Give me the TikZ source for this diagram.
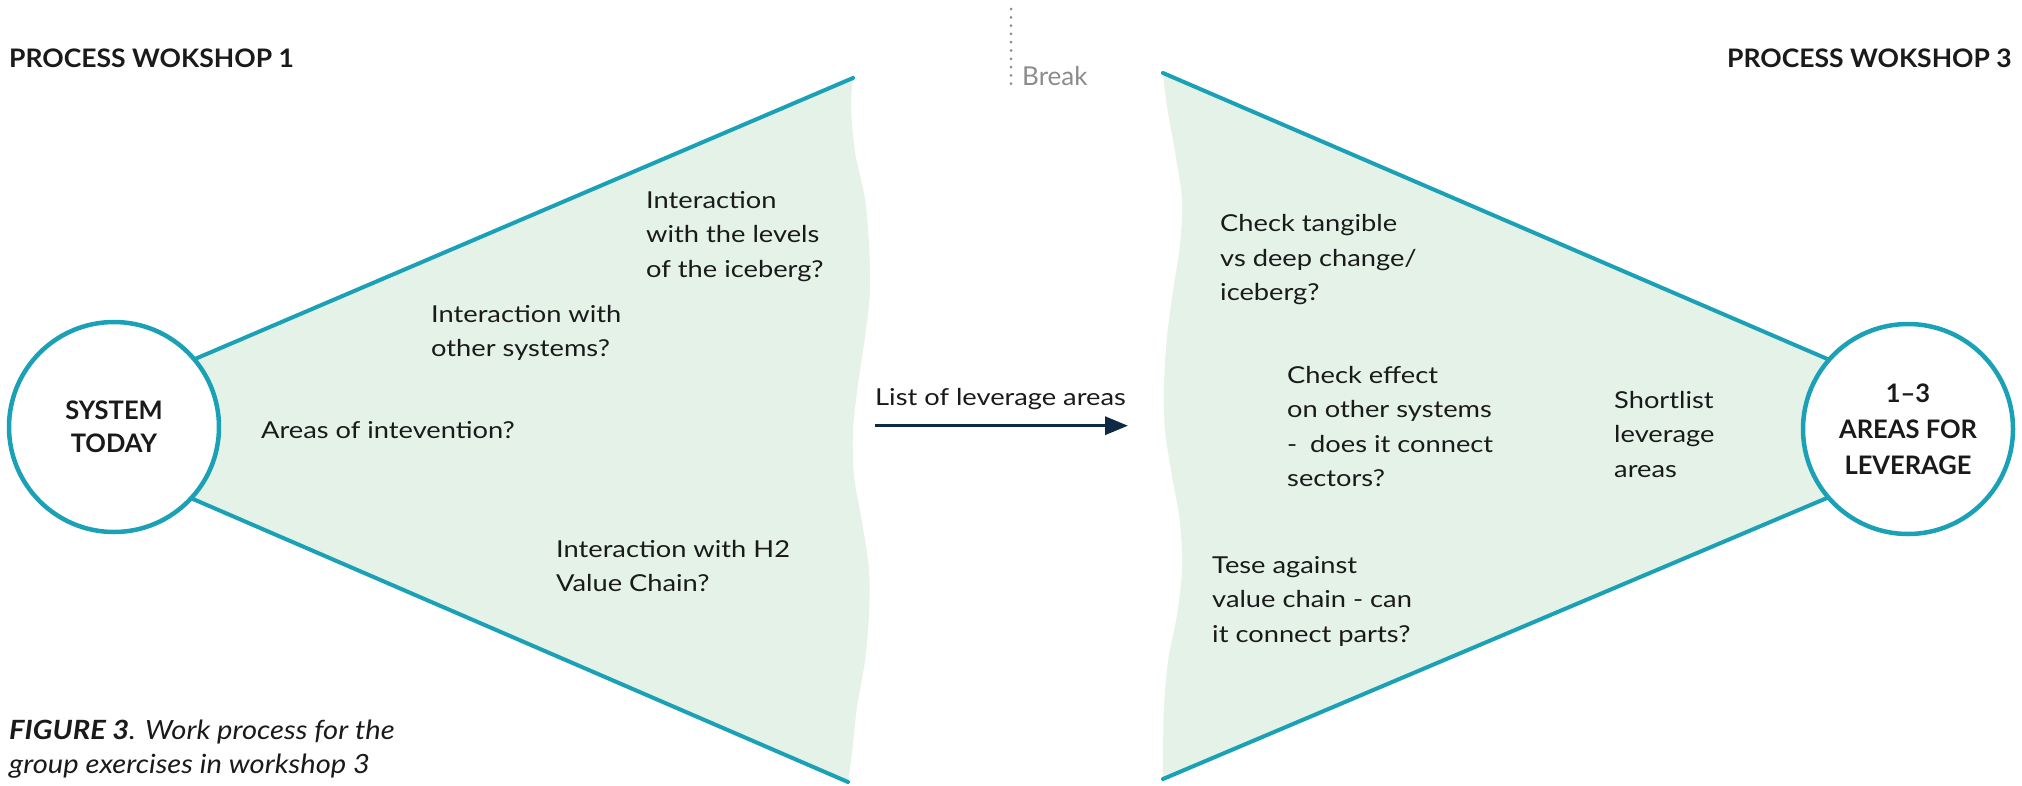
\documentclass[tikz,border=0pt]{standalone}
\usepackage{fontspec}
\setmainfont{Lato}
\newfontfamily\bodyfont{Lato}[FakeStretch=1.17]
\newfontfamily\capfont{Lato}[FakeStretch=1.1]
\newfontfamily\headfont{Lato}[FakeStretch=1.04]
\usetikzlibrary{arrows.meta}
\definecolor{tealline}{HTML}{1BA1B5}
\definecolor{fangreen}{HTML}{E4F2E8}
\definecolor{navy}{HTML}{0E2A44}
\definecolor{grayb}{HTML}{8C8C8C}
\definecolor{ink}{HTML}{1A1A1A}
\begin{document}
\begin{tikzpicture}[x=1pt,y=-1pt,
  fanfill/.style={fill=fangreen},
  fanedge/.style={draw=tealline,line width=4pt,line cap=round},
  hub/.style={circle,draw=tealline,line width=4.5pt,fill=white,minimum size=210pt,inner sep=0pt,align=center,text=ink},
  lbl/.style={anchor=base west,align=left,font=\bodyfont\fontsize{23.3}{34.5}\selectfont,text=ink,inner sep=0pt},
  header/.style={font=\headfont\fontsize{25.5}{30}\selectfont\bfseries,text=ink,inner sep=0pt},
  dotline/.style={draw=grayb,line width=3pt,line cap=round,dash pattern=on 0pt off 8.3pt},
  flow/.style={draw=navy,line width=3.3pt,-{Triangle[length=23pt,width=18pt]}},
]
\useasboundingbox (0,0) rectangle (2022,785);

% ---------- left fan ----------
\coordinate (apexL) at (31,429);
\coordinate (topL) at (853,78);
\coordinate (botL) at (848,782);
\fill[fanfill] (apexL) -- (topL) -- plot[smooth] coordinates {(853,78) (851,106) (855,152) (865,199) (869,245) (870,291) (865,337) (858,384) (853,430) (854,476) (862,522) (869,569) (869,615) (865,661) (857,707) (852,753) (848,782)} -- cycle;
\draw[fanedge] (apexL) -- (topL);
\draw[fanedge] (apexL) -- (botL);
\node[hub,font=\fontsize{25.5}{33.5}\selectfont\bfseries] (sys) at (114,427) {SYSTEM\\TODAY};

% ---------- right fan ----------
\coordinate (apexR) at (1990,429);
\coordinate (topR) at (1163,73);
\coordinate (botR) at (1163,779);
\fill[fanfill] (apexR) -- (topR) -- plot[smooth] coordinates {(1163,73) (1167,106) (1175,152) (1182,199) (1180,245) (1173,291) (1167,337) (1164,384) (1165,430) (1172,476) (1180,522) (1182,569) (1177,615) (1168,661) (1164,707) (1163,753) (1163,779)} -- cycle;
\draw[fanedge] (apexR) -- (topR);
\draw[fanedge] (apexR) -- (botR);
\node[hub,font=\fontsize{25.5}{36}\selectfont\bfseries] (lev) at (1908,429) {1–3\\AREAS FOR\\LEVERAGE};

% ---------- headers ----------
\node[header,anchor=base west] (h1) at (9,67) {PROCESS WOKSHOP 1};
\node[header,anchor=base east] (h3) at (2012,67) {PROCESS WOKSHOP 3};

% ---------- break ----------
\coordinate (brTop) at (1011,9);
\coordinate (brBot) at (1011,84);
\draw[dotline] (brTop) -- (brBot);
\node[lbl,text=grayb,font=\fontsize{26}{30}\selectfont] (brk) at (1022,85) {Break};

% ---------- left labels (anchored at last baseline) ----------
\node[lbl] (l1) at (646,277) {Interaction\\with the levels\\of the iceberg?};
\node[lbl] (l2) at (431,356.5) {Interaction with\\other systems?};
\node[lbl] (l3) at (261,438) {Areas of intevention?};
\node[lbl] (l4) at (556,591.5) {Interaction with H2\\Value Chain?};

% ---------- right labels ----------
\node[lbl] (r1) at (1220,300.5) {Check tangible\\vs deep change/\\iceberg?};
\node[lbl] (r2) at (1287,486.5) {Check effect\\on other systems\\-\hspace{0.55em}does it connect\\sectors?};
\node[lbl] (r3) at (1614,477) {Shortlist\\leverage\\areas};
\node[lbl] (r4) at (1212,642) {Tese against\\value chain - can\\it connect parts?};

% ---------- middle arrow ----------
\node[lbl] (lst) at (875,405) {List of leverage areas};
\coordinate (arS) at (875,425.7);
\coordinate (arE) at (1128,425.7);
\draw[flow] (arS) -- (arE);

% ---------- caption ----------
\node[lbl,font=\capfont\fontsize{26.5}{34.5}\selectfont\itshape] (cap) at (9,773.5) {\textbf{FIGURE 3}. Work process for the\\group exercises in workshop 3};
\end{tikzpicture}
\end{document}
